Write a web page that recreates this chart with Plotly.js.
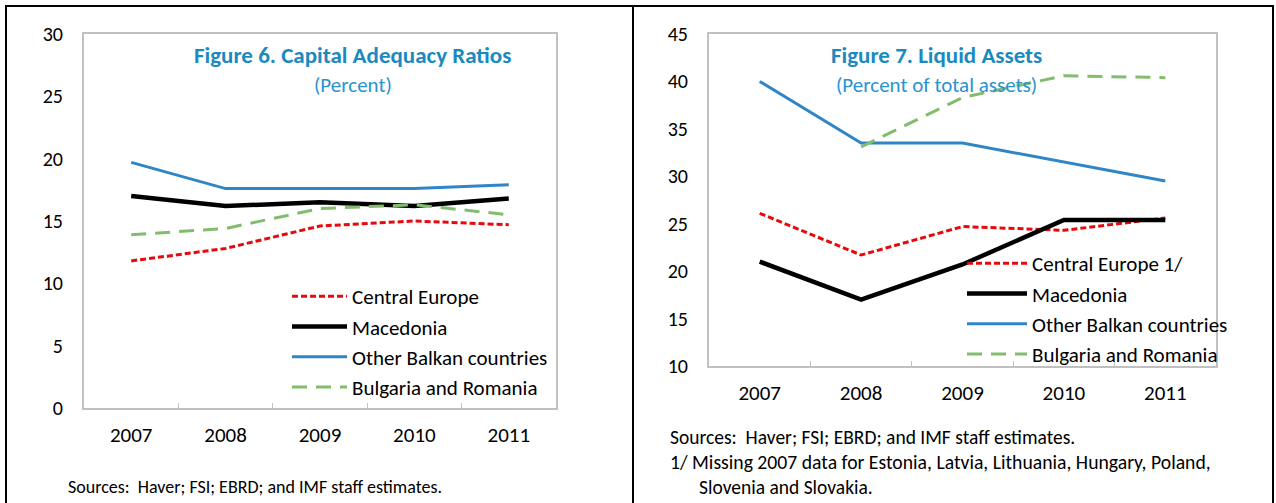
<!DOCTYPE html>
<html>
<head>
<meta charset="utf-8">
<script src="https://cdn.plot.ly/plotly-3.0.1.min.js"></script>
<style>html,body{margin:0;padding:0;background:#fff;}#chart{width:1276px;height:503px;}</style>
</head>
<body>
<div id="chart"></div>
<script>
const years = ["2007", "2008", "2009", "2010", "2011"];

// Figure 6. Capital Adequacy Ratios (Percent)
const car_centralEurope = [11.8, 12.8, 14.6, 15.0, 14.7];
const car_macedonia = [17.0, 16.2, 16.5, 16.2, 16.8];
const car_otherBalkan = [19.7, 17.6, 17.6, 17.6, 17.9];
const car_bulgariaRomania = [13.9, 14.4, 16.0, 16.3, 15.5];

// Figure 7. Liquid Assets (Percent of total assets)
const la_centralEurope = [26.1, 21.7, 24.7, 24.3, 25.6];
const la_macedonia = [21.0, 17.0, 20.7, 25.4, 25.4];
const la_otherBalkan = [40.0, 33.5, 33.5, 31.5, 29.5];
const la_bulgariaRomania = [null, 33.1, 38.3, 40.6, 40.4];

const leftNames = ["Central Europe", "Macedonia", "Other Balkan countries", "Bulgaria and Romania"];
const rightNames = ["Central Europe 1/", "Macedonia", "Other Balkan countries", "Bulgaria and Romania"];

const FONT = "Calibri, Carlito, 'Liberation Sans Narrow', 'DejaVu Sans Condensed', sans-serif";
const W = 1276, H = 503;
const px = v => v / W;
const py = v => 1 - v / H;

const styles = [
  {color: "#e8090c", width: 3, dash: "6px,3px"},
  {color: "#000000", width: 4.5, dash: "solid"},
  {color: "#2f86c6", width: 3, dash: "solid"},
  {color: "#82bd6e", width: 3, dash: "15px,9px"}
];

function mk(y, name, i, xa, ya, leg) {
  return {
    x: years, y: y, name: name, type: "scatter", mode: "lines",
    xaxis: xa, yaxis: ya, legend: leg, legendgroup: leg + i,
    line: Object.assign({}, styles[i]),
    connectgaps: false, hoverinfo: "x+y+name"
  };
}

const data = [
  mk(car_centralEurope, leftNames[0], 0, "x", "y", "legend"),
  mk(car_macedonia, leftNames[1], 1, "x", "y", "legend"),
  mk(car_otherBalkan, leftNames[2], 2, "x", "y", "legend"),
  mk(car_bulgariaRomania, leftNames[3], 3, "x", "y", "legend"),
  mk(la_centralEurope, rightNames[0], 0, "x2", "y2", "legend2"),
  mk(la_macedonia, rightNames[1], 1, "x2", "y2", "legend2"),
  mk(la_otherBalkan, rightNames[2], 2, "x2", "y2", "legend2"),
  mk(la_bulgariaRomania, rightNames[3], 3, "x2", "y2", "legend2")
];

const xCommon = {
  type: "category", range: [-0.5, 4.5], showgrid: false, zeroline: false,
  showline: true, linecolor: "#c0c0c0", linewidth: 2, mirror: true,
  ticks: "inside", tickson: "boundaries", ticklen: 5, tickcolor: "#c0c0c0", tickwidth: 1,
  tickfont: {family: FONT, size: 21, color: "#000"}, ticklabelstandoff: 7, fixedrange: true
};
const yCommon = {
  showgrid: false, zeroline: false, showline: true, linecolor: "#c0c0c0", linewidth: 2, mirror: true,
  ticks: "", tickfont: {family: FONT, size: 20, color: "#000"}, ticklabelstandoff: 15, fixedrange: true
};

const legCommon = {
  bgcolor: "rgba(0,0,0,0)", borderwidth: 0, font: {family: FONT, size: 21, color: "#000"},
  traceorder: "grouped", tracegroupgap: 0, xanchor: "left", yanchor: "top"
};

const titleColor = "#1b8abf";
const subColor = "#2a93d0";
const layout = {
  width: W, height: H, margin: {l: 0, r: 0, t: 0, b: 0},
  paper_bgcolor: "#fff", plot_bgcolor: "#fff",
  font: {family: FONT, color: "#000"},
  xaxis: Object.assign({}, xCommon, {domain: [px(84), px(556)], anchor: "y"}),
  yaxis: Object.assign({}, yCommon, {domain: [py(408), py(34)], range: [0, 30], dtick: 5, anchor: "x"}),
  xaxis2: Object.assign({}, xCommon, {domain: [px(709), px(1216)], anchor: "y2"}),
  yaxis2: Object.assign({}, yCommon, {domain: [py(366), py(34)], range: [10, 45], dtick: 5, anchor: "x2"}),
  legend: Object.assign({}, legCommon, {x: px(287), y: py(276), itemwidth: 55}),
  legend2: Object.assign({}, legCommon, {x: px(962), y: py(243), itemwidth: 60}),
  showlegend: true,
  shapes: [
    {type: "line", xref: "paper", yref: "paper", x0: px(6), x1: px(6), y0: py(5), y1: py(505), line: {color: "#000", width: 2}},
    {type: "line", xref: "paper", yref: "paper", x0: px(5), x1: px(1274), y0: py(6), y1: py(6), line: {color: "#000", width: 2}},
    {type: "line", xref: "paper", yref: "paper", x0: px(633), x1: px(633), y0: py(5), y1: py(505), line: {color: "#000", width: 2}},
    {type: "line", xref: "paper", yref: "paper", x0: px(1273), x1: px(1273), y0: py(5), y1: py(505), line: {color: "#000", width: 2}}
  ],
  annotations: [
    {xref: "paper", yref: "paper", x: px(353), y: py(55), xanchor: "center", yanchor: "middle", showarrow: false,
     text: "<b>Figure 6. Capital Adequacy Ratios</b>", font: {family: FONT, size: 23, color: titleColor}},
    {xref: "paper", yref: "paper", x: px(353), y: py(85), xanchor: "center", yanchor: "middle", showarrow: false,
     text: "(Percent)", font: {family: FONT, size: 21, color: subColor}},
    {xref: "paper", yref: "paper", x: px(936), y: py(55), xanchor: "center", yanchor: "middle", showarrow: false,
     text: "<b>Figure 7. Liquid Assets</b>", font: {family: FONT, size: 23, color: titleColor}},
    {xref: "paper", yref: "paper", x: px(936), y: py(85), xanchor: "center", yanchor: "middle", showarrow: false,
     text: "(Percent of total assets)", font: {family: FONT, size: 21, color: subColor}},
    {xref: "paper", yref: "paper", x: px(66), y: py(487), xanchor: "left", yanchor: "middle", showarrow: false,
     text: "Sources:  Haver; FSI; EBRD; and IMF staff estimates.", font: {family: FONT, size: 18, color: "#000"}},
    {xref: "paper", yref: "paper", x: px(668), y: py(437), xanchor: "left", yanchor: "middle", showarrow: false,
     text: "Sources:  Haver; FSI; EBRD; and IMF staff estimates.", font: {family: FONT, size: 19.5, color: "#000"}},
    {xref: "paper", yref: "paper", x: px(668), y: py(462), xanchor: "left", yanchor: "middle", showarrow: false,
     text: "1/ Missing 2007 data for Estonia, Latvia, Lithuania, Hungary, Poland,", font: {family: FONT, size: 19.7, color: "#000"}},
    {xref: "paper", yref: "paper", x: px(697), y: py(487), xanchor: "left", yanchor: "middle", showarrow: false,
     text: "Slovenia and Slovakia.", font: {family: FONT, size: 19.5, color: "#000"}}
  ]
};

Plotly.newPlot("chart", data, layout, {staticPlot: true, displayModeBar: false});
</script>
</body>
</html>
